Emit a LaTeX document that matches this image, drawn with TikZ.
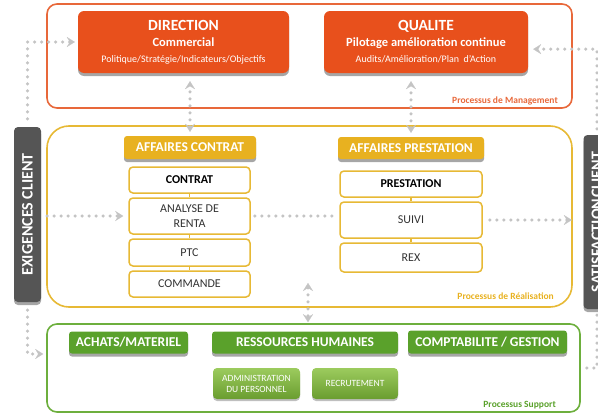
\documentclass[tikz,border=0pt]{standalone}
\usepackage{fontspec}
\setmainfont{Carlito}
\usepackage{graphicx}
\usetikzlibrary{arrows.meta,shadows}

\definecolor{mgmtred}{HTML}{E8501C}
\definecolor{mgmtline}{HTML}{E8683A}
\definecolor{realgold}{HTML}{E8B120}
\definecolor{realline}{HTML}{E7B935}
\definecolor{suppgreen}{HTML}{5AA12B}
\definecolor{suppline}{HTML}{6DAF3D}
\definecolor{subtop}{HTML}{9CCB5E}
\definecolor{subbot}{HTML}{6A9D2F}
\definecolor{clientgray}{HTML}{555555}
\definecolor{dotgray}{HTML}{C4C4C4}
\definecolor{itemtext}{HTML}{333333}

\begin{document}
\begin{tikzpicture}[
        x=1pt, y=-1pt,
        >={Stealth[length=8pt, width=10pt, inset=3pt, line width=0.1pt]},
        frame/.style={draw=#1, line width=1.6pt, rounded corners=10pt, inner sep=0pt},
        boxshadow/.style={drop shadow={shadow xshift=0pt, shadow yshift=-3pt, fill=black!35, opacity=1}},
        bigbox/.style={fill=mgmtred, rounded corners=6pt, text=white, align=center, inner sep=0pt,
            font=\bfseries\fontsize{12.5}{16}\selectfont, minimum height=62, boxshadow},
        header/.style={fill=#1, rounded corners=3pt, text=white, inner sep=0pt,
            font=\bfseries\fontsize{13.5}{15}\selectfont, boxshadow},
        item/.style={draw=realline, line width=1.5pt, fill=white, rounded corners=4pt, inner sep=0pt,
            text=itemtext, align=center, font=\fontsize{12}{15}\selectfont},
        subbox/.style={top color=subtop, bottom color=subbot, rounded corners=4pt, inner sep=0pt,
            text=white, align=center, font=\fontsize{9.5}{11}\selectfont, minimum height=31,
            drop shadow={shadow xshift=0pt, shadow yshift=-2pt, fill=black!25, opacity=1}},
        clientbar/.style={fill=clientgray, rounded corners=4pt, inner sep=0pt, text=white,
            font=\bfseries\fontsize{16}{16}\selectfont, minimum width=27, boxshadow},
        proclabel/.style={font=\bfseries\fontsize{9.5}{11}\selectfont, anchor=base east, inner sep=0pt},
        flow/.style={draw=dotgray, line width=3.5pt, line cap=round, dash pattern=on 0pt off 7pt},
        link/.style={draw=realline, line width=1.5pt}
    ]
        \useasboundingbox (0,0) rectangle (598,415);

        % les trois processus
        \node[frame=mgmtline, minimum width=525, minimum height=104] (mgmt) at (309.5,56) {};
        \node[frame=realline, rounded corners=22pt, minimum width=525, minimum height=181] (real) at (309.5,216.5) {};
        \node[frame=suppline, minimum width=533, minimum height=88] (supp) at (313.5,368) {};

        \node[proclabel, text=mgmtline] (mgmtlbl) at (558,103) {Processus de Management};
        \node[proclabel, text=realgold] (reallbl) at (554,299) {Processus de Réalisation};
        \node[proclabel, text=suppgreen] (supplbl) at (556,407) {Processus Support};

        % management
        \node[bigbox, minimum width=211] (dir) at (183.5,42)
            {{\fontsize{15.5}{16}\selectfont DIRECTION}\\Commercial\\{\mdseries\fontsize{10}{11}\selectfont Politique/Stratégie/Indicateurs/Objectifs}};
        \node[bigbox, minimum width=204] (qual) at (426,42)
            {{\fontsize{15.5}{16}\selectfont QUALITE}\\Pilotage amélioration continue\\{\mdseries\fontsize{10}{11}\selectfont Audits/Amélioration/Plan~ d’Action}};

        % realisation
        \node[header=realgold, minimum width=132, minimum height=23] (affc) at (190,147.5) {AFFAIRES CONTRAT};
        \node[item, minimum width=121, minimum height=26, font=\bfseries\fontsize{12}{15}\selectfont, text=black] (contrat) at (189.5,180) {CONTRAT};
        \node[item, minimum width=121, minimum height=36] (analyse) at (189.5,216) {ANALYSE DE\\RENTA};
        \node[item, minimum width=121, minimum height=27] (ptc) at (189.5,252.5) {PTC};
        \node[item, minimum width=121, minimum height=26] (commande) at (189.5,284) {COMMANDE};
        \draw[link] (contrat) -- (analyse) -- (ptc) -- (commande);

        \node[header=realgold, minimum width=146, minimum height=22] (affp) at (411,148) {AFFAIRES PRESTATION};
        \node[item, minimum width=142, minimum height=26, font=\bfseries\fontsize{12}{15}\selectfont, text=black] (prest) at (411,184) {PRESTATION};
        \node[item, minimum width=142, minimum height=36] (suivi) at (411,220) {SUIVI};
        \node[item, minimum width=142, minimum height=29] (rex) at (411,257.5) {REX};
        \draw[link] (prest) -- (suivi) -- (rex);

        % support
        \node[header=suppgreen, minimum width=119, minimum height=22] (achats) at (128.5,342.5) {ACHATS/MATERIEL};
        \node[header=suppgreen, minimum width=186, minimum height=22] (rh) at (305,342.5) {RESSOURCES HUMAINES};
        \node[header=suppgreen, minimum width=159, minimum height=23] (compta) at (487.5,342) {COMPTABILITE / GESTION};
        \node[subbox, minimum width=87] (admin) at (256.5,383.5) {ADMINISTRATION\\DU PERSONNEL};
        \node[subbox, minimum width=86] (recru) at (355,383.5) {RECRUTEMENT};

        % client
        \node[clientbar, minimum height=175] (exig) at (27.5,214.5) {\rotatebox{90}{EXIGENCES CLIENT}};
        \node[clientbar, minimum height=174] (satis) at (597,222) {\rotatebox{90}{SATISFACTION\kern1pt CLIENT}};

        % flux
        \coordinate (rtop) at (308,283);
        \draw[flow, ->, shorten <=8pt, shorten >=3pt] (exig.north) |- (dir.west);
        \draw[flow, ->, shorten <=6pt, shorten >=5pt] (exig.east |- analyse.west) -- (analyse.west);
        \draw[flow, shorten <=4pt, shorten >=7pt] (analyse.east) -- (suivi.west |- analyse.east);
        \draw[flow, ->, shorten <=7pt, shorten >=1pt] (suivi.east) -- (real.east |- suivi.east);
        \draw[flow, ->, shorten <=6pt, shorten >=5pt] (satis.north) |- (qual.-4);
        \draw[flow, shorten <=6pt, shorten >=3pt] (satis.south) |- (supp.east);
        \draw[flow, ->, shorten <=8pt, shorten >=3pt] (exig.south) |- (supp.177);
        \draw[flow, <->, shorten <=4pt, shorten >=8pt] (affc.north) -- (affc.north |- dir.south);
        \draw[flow, <->, shorten <=4pt, shorten >=8pt] (affp.north) -- (affp.north |- qual.south);
        \draw[flow, <->, shorten >=1pt] (rtop) -- (rtop |- supp.north);
    \end{tikzpicture}
\end{document}
